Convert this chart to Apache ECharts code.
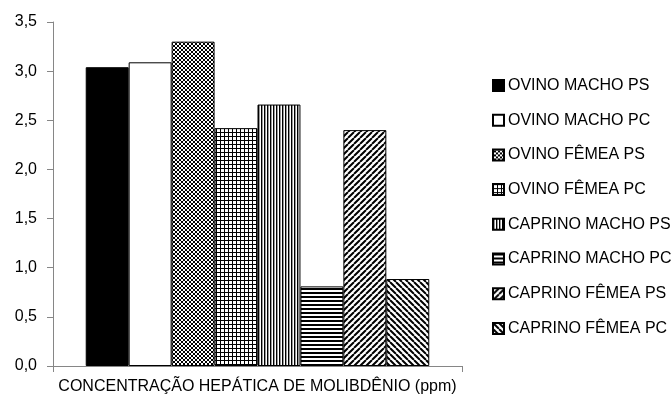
<!DOCTYPE html>
<html>
<head>
<meta charset="utf-8">
<script src="https://cdn.jsdelivr.net/npm/echarts@6/dist/echarts.min.js"></script>
<style>html,body{margin:0;padding:0;background:#fff}#c{width:671px;height:401px}</style>
</head>
<body>
<div id="c"></div>
<script>
var categories = ['CONCENTRAÇÃO HEPÁTICA DE MOLIBDÊNIO (ppm)'];
var seriesNames = ['OVINO MACHO PS','OVINO MACHO PC','OVINO FÊMEA PS','OVINO FÊMEA PC','CAPRINO MACHO PS','CAPRINO MACHO PC','CAPRINO FÊMEA PS','CAPRINO FÊMEA PC'];
var seriesValues = [3.04, 3.09, 3.30, 2.42, 2.66, 0.81, 2.40, 0.885];
var yTicks = [0, 0.5, 1.0, 1.5, 2.0, 2.5, 3.0, 3.5];

function pat(type){
  if (type === 'solid') return '#000';
  if (type === 'white') return '#fff';
  var s = {cross:4, grid:4, vert:3, horiz:4, diagR:6, diagL:6}[type];
  var c = document.createElement('canvas');
  c.width = s; c.height = s;
  var x = c.getContext('2d');
  x.fillStyle = '#fff'; x.fillRect(0,0,s,s);
  x.fillStyle = '#000'; x.strokeStyle = '#000';
  if (type === 'cross') {
    x.lineWidth = 1;
    x.beginPath();
    for (var k=-1;k<=1;k++){ x.moveTo(k*s,0); x.lineTo(k*s+s,s); x.moveTo(k*s,s); x.lineTo(k*s+s,0); }
    x.stroke();
  } else if (type === 'grid') {
    x.fillRect(0,0,s,1); x.fillRect(0,0,1,s);
  } else if (type === 'vert') {
    x.fillRect(0,0,1,s); x.fillStyle='#999'; x.fillRect(1,0,1,s);
  } else if (type === 'horiz') {
    x.fillRect(0,0,s,2);
  } else if (type === 'diagR') {
    x.lineWidth = 2; x.beginPath();
    for (var k=-1;k<=1;k++){ x.moveTo(k*s,s); x.lineTo(k*s+s,0); }
    x.stroke();
  } else if (type === 'diagL') {
    x.lineWidth = 2; x.beginPath();
    for (var k=-1;k<=1;k++){ x.moveTo(k*s,0); x.lineTo(k*s+s,s); }
    x.stroke();
  }
  return {image: c, repeat: 'repeat'};
}
var patterns = ['solid','white','cross','grid','vert','horiz','diagR','diagL'];

var FONT = 'Liberation Sans';
var chart = echarts.init(document.getElementById('c'), null, {renderer:'canvas'});
var series = seriesNames.map(function(n,i){
  return {
    name: n, type: 'bar', data: [seriesValues[i]],
    barGap: '0%', barCategoryGap: '16%',
    itemStyle: {color: pat(patterns[i]), borderColor: '#000', borderWidth: 1},
    emphasis: {disabled: true}
  };
});
chart.setOption({
  animation: false,
  backgroundColor: '#fff',
  grid: {left: 53, top: 22, right: 209, bottom: 35, containLabel: false},
  legend: {
    orient: 'vertical', left: 492, top: 76, padding: 0,
    itemWidth: 11, itemHeight: 11, itemGap: 15.7,
    icon: 'rect',
    textStyle: {fontFamily: FONT, fontSize: 16, color: '#000', padding: [0,0,0,-1], lineHeight: 19},
    data: seriesNames
  },
  xAxis: {
    type: 'category', data: categories,
    axisLine: {lineStyle: {color: '#868686'}},
    axisTick: {show: true, length: 6, lineStyle: {color: '#868686'}},
    axisLabel: {fontFamily: FONT, fontSize: 16, color: '#000', margin: 13}
  },
  yAxis: {
    type: 'value', min: 0, max: 3.5, interval: 0.5,
    axisLine: {show: true, lineStyle: {color: '#868686'}},
    axisTick: {show: true, length: 6, lineStyle: {color: '#868686'}},
    splitLine: {show: false},
    axisLabel: {fontFamily: FONT, fontSize: 16, color: '#000', margin: 16,
      formatter: function(v){ return v.toFixed(1).replace('.', ','); }}
  },
  series: series
});
</script>
</body>
</html>
